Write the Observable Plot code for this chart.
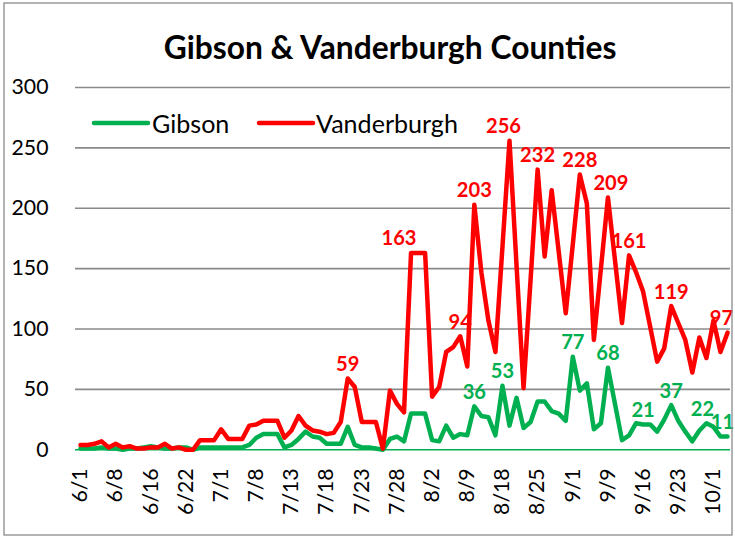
<!DOCTYPE html>
<html>
<head>
<meta charset="utf-8">
<script src="https://cdn.jsdelivr.net/npm/d3@7"></script>
<script src="https://cdn.jsdelivr.net/npm/@observablehq/plot@0.6"></script>
<style>
  html, body { margin: 0; padding: 0; background: #fff; }
  #chart { position: relative; width: 735px; height: 537px; }
</style>
</head>
<body>
<div id="chart"></div>
<script>
// ---- Data ----
const title = "Gibson & Vanderburgh Counties";
const seriesNames = ["Gibson", "Vanderburgh"];

// Category tick labels (every 5th reporting day)
const xTickIndex = [0, 5, 10, 15, 20, 25, 30, 35, 40, 45, 50, 55, 60, 65, 70, 75, 80, 85, 90];
const xTickLabels = ["6/1", "6/8", "6/16", "6/22", "7/1", "7/8", "7/13", "7/18", "7/23", "7/28",
                     "8/2", "8/9", "8/18", "8/25", "9/1", "9/9", "9/16", "9/23", "10/1"];

const gibson = [
  1, 1, 1, 2, 1, 1, 0, 1, 1, 2,
  3, 2, 1, 1, 2, 2, 0, 2, 2, 2,
  2, 2, 2, 2, 4, 10, 13, 13, 13, 2,
  4, 9, 15, 11, 10, 5, 5, 5, 19, 4,
  2, 2, 1, 0, 9, 11, 7, 30, 30, 30,
  8, 7, 20, 10, 13, 12, 36, 28, 27, 12,
  53, 20, 43, 18, 23, 40, 40, 32, 30, 24,
  77, 49, 55, 17, 22, 68, 38, 8, 12, 22,
  21, 21, 15, 25, 37, 24, 15, 7, 16, 22,
  19, 11, 11
];
const vanderburgh = [
  4, 4, 5, 7, 2, 5, 2, 3, 1, 1,
  2, 2, 5, 1, 2, 0, 0, 8, 8, 8,
  17, 9, 9, 9, 20, 21, 24, 24, 24, 10,
  16, 28, 20, 16, 15, 13, 14, 23, 59, 52,
  23, 23, 23, 1, 49, 38, 31, 163, 163, 163,
  44, 52, 81, 85, 94, 69, 203, 147, 107, 81,
  168, 256, 153, 51, 141, 232, 160, 215, 164, 113,
  170, 228, 204, 91, 150, 209, 157, 105, 161, 147,
  131, 102, 73, 84, 119, 105, 91, 64, 93, 76,
  107, 81, 97
];

// Points that carry a data label
const gibsonLabelIndex = [56, 60, 70, 75, 80, 84, 89, 92];
const vanderLabelIndex = [38, 47, 54, 56, 61, 65, 71, 75, 78, 84, 92];

const yTicks = [0, 50, 100, 150, 200, 250, 300];

// ---- Styling ----
const GREEN = "#00b050", RED = "#ff0000", GRID = "#8a8a8a";
const FONT = "Lato, 'Open Sans', sans-serif";

// fit font sizes to measured reference widths
const ctx = document.createElement("canvas").getContext("2d");
function fit(text, weight, target) {
  ctx.font = `${weight} 100px Lato`;
  return 100 * target / ctx.measureText(text).width;
}
const titleSize = fit(title, "bold", 454);
const axisSize = fit("300", "normal", 37);
const legendSize = fit("Vanderburgh", "normal", 142);
const labelSize = fit("256", "bold", 35);

const gib = gibson.map((v, i) => ({i, v}));
const van = vanderburgh.map((v, i) => ({i, v}));
const xTicks = xTickIndex.map((i, k) => ({i, label: xTickLabels[k]}));
const lastIdx = gibson.length - 1;

// label nudges (label placement only, not data)
const redNudge = {47: -12, 61: -6, 75: 3, 92: -6};
const greenNudge = {89: -4, 92: -5};
function labelMarks(rows, idx, color, nudge) {
  const picked = rows.filter(d => idx.includes(d.i));
  const groups = d3.group(picked, d => nudge[d.i] || 0);
  return Array.from(groups, ([dx, data]) =>
    Plot.text(data, {x: "i", y: "v", text: d => String(d.v), fill: color, fontWeight: "bold",
      fontSize: labelSize, dy: -14, dx, lineAnchor: "middle"}));
}

const W = 735, H = 537;
const plot = Plot.plot({
  width: W,
  height: H,
  marginLeft: 75,
  marginRight: 5,
  marginTop: 87,
  marginBottom: H - 449.3,
  style: {fontFamily: FONT, background: "#fff", overflow: "visible"},
  x: {type: "linear", domain: [0, lastIdx], range: [80, 727], axis: null},
  y: {domain: [0, 300], range: [449.3, 87], axis: null},
  marks: [
    Plot.ruleY(yTicks.filter(d => d > 0), {stroke: GRID, strokeWidth: 1.6}),
    Plot.ruleY([0], {stroke: GREEN, strokeWidth: 1.6}),
    Plot.axisY({ticks: yTicks, tickSize: 0, tickPadding: 27, label: null,
                fontSize: axisSize, tickFormat: d => String(d), color: "#000"}),
    Plot.text(xTicks, {x: "i", y: 0, text: "label", rotate: -90, textAnchor: "end",
                       lineAnchor: "middle", dy: 18.5, fontSize: axisSize, fill: "#000"}),
    Plot.line(gib, {x: "i", y: "v", stroke: GREEN, strokeWidth: 4.5,
                    strokeLinejoin: "round", strokeLinecap: "round"}),
    Plot.line(van, {x: "i", y: "v", stroke: RED, strokeWidth: 4.5,
                    strokeLinejoin: "round", strokeLinecap: "round"}),
    ...labelMarks(gib, gibsonLabelIndex, GREEN, greenNudge),
    ...labelMarks(van, vanderLabelIndex, RED, redNudge)
  ]
});

document.getElementById("chart").appendChild(plot);

// Title, legend and chart border
const svg = d3.select(plot);
svg.append("rect").attr("x", 4).attr("y", 3).attr("width", 728).attr("height", 532)
  .attr("fill", "none").attr("stroke", "#8a8a8a").attr("stroke-width", 1.3);
svg.append("text").attr("x", 390).attr("y", 47).attr("text-anchor", "middle")
  .attr("dominant-baseline", "central")
  .style("font-family", FONT).style("font-weight", "bold").style("font-size", titleSize + "px")
  .attr("fill", "#000").text(title);

const legend = [
  {name: seriesNames[0], color: GREEN, x0: 94, x1: 148, tx: 152},
  {name: seriesNames[1], color: RED, x0: 259, x1: 313, tx: 316}
];
for (const l of legend) {
  svg.append("line").attr("x1", l.x0).attr("x2", l.x1).attr("y1", 123).attr("y2", 123)
    .attr("stroke", l.color).attr("stroke-width", 4.5).attr("stroke-linecap", "round");
  svg.append("text").attr("x", l.tx).attr("y", 123).attr("text-anchor", "start")
    .attr("dominant-baseline", "central")
    .style("font-family", FONT).style("font-size", legendSize + "px").attr("fill", "#000").text(l.name);
}
</script>
</body>
</html>
